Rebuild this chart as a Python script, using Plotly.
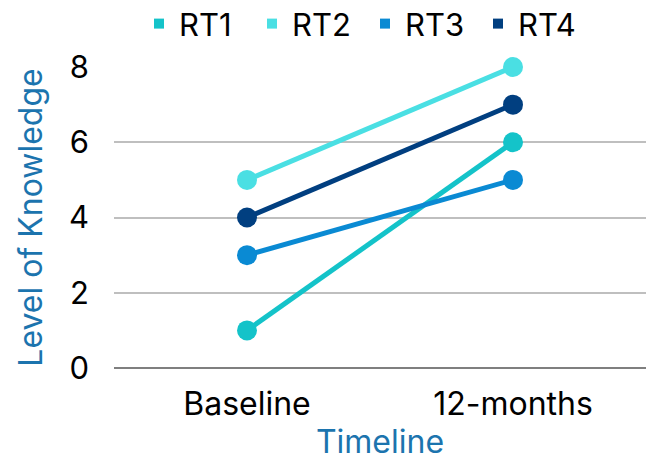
import plotly.graph_objects as go

timeline = ["Baseline", "12-months"]
series_names = ["RT1", "RT2", "RT3", "RT4"]
rt1 = [1, 6]
rt2 = [5, 8]
rt3 = [3, 5]
rt4 = [4, 7]
y_ticks = [0, 2, 4, 6, 8]

values = [rt1, rt2, rt3, rt4]
colors = ["#14C3C9", "#4ADFE3", "#0A8AD3", "#013F80"]

FONT = "Inter"
fig = go.Figure()
for name, vals, c in zip(series_names, values, colors):
    fig.add_trace(go.Scatter(
        x=timeline, y=vals, mode="lines+markers", name=name,
        line=dict(color=c, width=5), marker=dict(color=c, size=20),
        showlegend=False, cliponaxis=False))
for name, c in zip(series_names, colors):
    fig.add_trace(go.Scatter(
        x=[None], y=[None], mode="markers", name=name,
        marker=dict(color=c, size=10, symbol="square"), showlegend=True))

fig.update_layout(
    width=651, height=461,
    margin=dict(l=114, r=5, t=67, b=93, autoexpand=False),
    paper_bgcolor="white", plot_bgcolor="white",
    font=dict(family=FONT, color="#000000", size=32),
    legend=dict(orientation="h", x=0.047, xanchor="left", y=1.143, yanchor="middle",
                font=dict(size=31, family=FONT),
                itemwidth=30, tracegroupgap=0, entrywidth=68, entrywidthmode="pixels"),
    xaxis=dict(title=dict(text="Timeline", font=dict(color="#1C74AE", size=32), standoff=15),
               range=[-0.5, 1.5],
               showgrid=False, showline=False, ticks="", zeroline=False,
               ticklabelstandoff=14, tickfont=dict(size=32)),
    yaxis=dict(title=dict(text="Level of Knowledge", font=dict(color="#1C74AE", size=32), standoff=16),
               range=[0, 8], tickvals=y_ticks, showgrid=True, gridcolor="#BFBFBF", gridwidth=1.5,
               zeroline=True, zerolinecolor="#7F7F7F", zerolinewidth=2, ticks="", showline=False,
               ticklabelstandoff=24, tickfont=dict(size=31)),
)
fig.write_html("out.html")
